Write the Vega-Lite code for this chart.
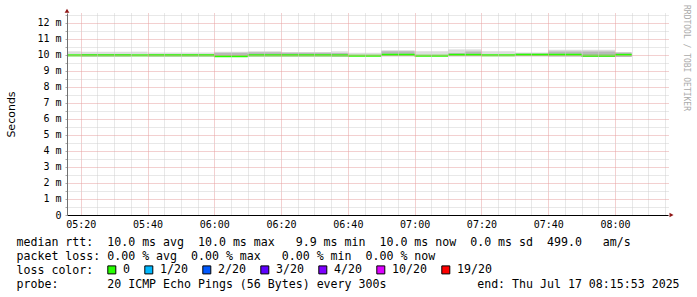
{
  "$schema": "https://vega.github.io/schema/vega-lite/v6.json",
  "width": 601,
  "height": 202,
  "autosize": {"type": "none"},
  "padding": {"left": 67, "top": 13, "right": 29, "bottom": 82},
  "background": "white",
  "config": {"view": {"stroke": null}},
  "title": {
    "text": "RRDTOOL / TOBI OETIKER",
    "orient": "right",
    "anchor": "start",
    "frame": "group",
    "font": "DejaVu Sans Mono",
    "fontSize": 8,
    "fontWeight": "normal",
    "color": "#aaaaaa",
    "offset": 3,
    "dx": -8
  },
  "resolve": {"axis": {"x": "independent", "y": "independent"}},
  "data": {
    "values": [
      {"start": "2025-07-17T05:15:53", "end": "2025-07-17T05:20:00", "lo": 9.88, "dk": 9.88, "hi": 10.21, "med": 9.96, "loss": "0"},
      {"start": "2025-07-17T05:20:00", "end": "2025-07-17T05:35:00", "lo": 9.88, "dk": 10.05, "hi": 10.19, "med": 9.96, "loss": "0"},
      {"start": "2025-07-17T05:35:00", "end": "2025-07-17T05:40:00", "lo": 9.88, "dk": 9.88, "hi": 10.19, "med": 9.96, "loss": "0"},
      {"start": "2025-07-17T05:40:00", "end": "2025-07-17T06:00:00", "lo": 9.88, "dk": 10.02, "hi": 10.14, "med": 9.96, "loss": "0"},
      {"start": "2025-07-17T06:00:00", "end": "2025-07-17T06:10:00", "lo": 9.86, "dk": 10.12, "hi": 10.19, "med": 9.90, "loss": "0"},
      {"start": "2025-07-17T06:10:00", "end": "2025-07-17T06:20:00", "lo": 9.88, "dk": 10.15, "hi": 10.21, "med": 9.96, "loss": "0"},
      {"start": "2025-07-17T06:20:00", "end": "2025-07-17T06:35:00", "lo": 9.88, "dk": 10.12, "hi": 10.17, "med": 9.96, "loss": "0"},
      {"start": "2025-07-17T06:35:00", "end": "2025-07-17T06:40:00", "lo": 9.88, "dk": 10.10, "hi": 10.21, "med": 9.96, "loss": "0"},
      {"start": "2025-07-17T06:40:00", "end": "2025-07-17T06:50:00", "lo": 9.88, "dk": 9.88, "hi": 10.125, "med": 9.93, "loss": "0"},
      {"start": "2025-07-17T06:50:00", "end": "2025-07-17T07:00:00", "lo": 9.90, "dk": 10.22, "hi": 10.28, "med": 9.99, "loss": "0"},
      {"start": "2025-07-17T07:00:00", "end": "2025-07-17T07:10:00", "lo": 9.88, "dk": 9.88, "hi": 10.21, "med": 9.93, "loss": "0"},
      {"start": "2025-07-17T07:10:00", "end": "2025-07-17T07:15:00", "lo": 9.90, "dk": 10.10, "hi": 10.33, "med": 9.99, "loss": "0"},
      {"start": "2025-07-17T07:15:00", "end": "2025-07-17T07:20:00", "lo": 9.90, "dk": 10.20, "hi": 10.33, "med": 9.99, "loss": "0"},
      {"start": "2025-07-17T07:20:00", "end": "2025-07-17T07:30:00", "lo": 9.88, "dk": 9.88, "hi": 10.21, "med": 9.96, "loss": "0"},
      {"start": "2025-07-17T07:30:00", "end": "2025-07-17T07:40:00", "lo": 9.90, "dk": 10.08, "hi": 10.14, "med": 10.0, "loss": "0"},
      {"start": "2025-07-17T07:40:00", "end": "2025-07-17T07:50:00", "lo": 9.88, "dk": 10.20, "hi": 10.31, "med": 9.99, "loss": "0"},
      {"start": "2025-07-17T07:50:00", "end": "2025-07-17T08:00:00", "lo": 9.86, "dk": 10.20, "hi": 10.31, "med": 9.93, "loss": "0"},
      {"start": "2025-07-17T08:00:00", "end": "2025-07-17T08:05:00", "lo": 9.86, "dk": 10.14, "hi": 10.14, "med": 9.99, "loss": "0"}
    ]
  },
  "layer": [
    {
      "mark": {"type": "rect", "color": "#dddddd"},
      "encoding": {
        "x": {
          "field": "start",
          "type": "temporal",
          "scale": {
            "domain": [
              {"year": 2025, "month": 7, "date": 17, "hours": 5, "minutes": 15, "seconds": 53},
              {"year": 2025, "month": 7, "date": 17, "hours": 8, "minutes": 15, "seconds": 53}
            ],
            "nice": false
          },
          "axis": {
            "orient": "bottom",
            "values": [
              {"year": 2025, "month": 7, "date": 17, "hours": 5, "minutes": 25},
              {"year": 2025, "month": 7, "date": 17, "hours": 5, "minutes": 30},
              {"year": 2025, "month": 7, "date": 17, "hours": 5, "minutes": 35},
              {"year": 2025, "month": 7, "date": 17, "hours": 5, "minutes": 45},
              {"year": 2025, "month": 7, "date": 17, "hours": 5, "minutes": 50},
              {"year": 2025, "month": 7, "date": 17, "hours": 5, "minutes": 55},
              {"year": 2025, "month": 7, "date": 17, "hours": 6, "minutes": 5},
              {"year": 2025, "month": 7, "date": 17, "hours": 6, "minutes": 10},
              {"year": 2025, "month": 7, "date": 17, "hours": 6, "minutes": 15},
              {"year": 2025, "month": 7, "date": 17, "hours": 6, "minutes": 25},
              {"year": 2025, "month": 7, "date": 17, "hours": 6, "minutes": 30},
              {"year": 2025, "month": 7, "date": 17, "hours": 6, "minutes": 35},
              {"year": 2025, "month": 7, "date": 17, "hours": 6, "minutes": 45},
              {"year": 2025, "month": 7, "date": 17, "hours": 6, "minutes": 50},
              {"year": 2025, "month": 7, "date": 17, "hours": 6, "minutes": 55},
              {"year": 2025, "month": 7, "date": 17, "hours": 7, "minutes": 5},
              {"year": 2025, "month": 7, "date": 17, "hours": 7, "minutes": 10},
              {"year": 2025, "month": 7, "date": 17, "hours": 7, "minutes": 15},
              {"year": 2025, "month": 7, "date": 17, "hours": 7, "minutes": 25},
              {"year": 2025, "month": 7, "date": 17, "hours": 7, "minutes": 30},
              {"year": 2025, "month": 7, "date": 17, "hours": 7, "minutes": 35},
              {"year": 2025, "month": 7, "date": 17, "hours": 7, "minutes": 45},
              {"year": 2025, "month": 7, "date": 17, "hours": 7, "minutes": 50},
              {"year": 2025, "month": 7, "date": 17, "hours": 7, "minutes": 55},
              {"year": 2025, "month": 7, "date": 17, "hours": 8, "minutes": 5},
              {"year": 2025, "month": 7, "date": 17, "hours": 8, "minutes": 10},
              {"year": 2025, "month": 7, "date": 17, "hours": 8, "minutes": 15}
            ],
            "labels": false,
            "ticks": false,
            "domain": false,
            "grid": true,
            "gridColor": "#d0d0d0",
            "gridDash": [1, 1],
            "gridWidth": 1,
            "zindex": 1,
            "title": null
          }
        },
        "x2": {"field": "end"},
        "y": {
          "field": "lo",
          "type": "quantitative",
          "scale": {"domain": [0, 12.6], "nice": false, "zero": true},
          "axis": {
            "orient": "left",
            "values": [0.5, 1.5, 2.5, 3.5, 4.5, 5.5, 6.5, 7.5, 8.5, 9.5, 10.5, 11.5, 12.5],
            "labels": false,
            "ticks": true,
            "tickSize": 2,
            "tickColor": "#aaaaaa",
            "domain": false,
            "grid": true,
            "gridColor": "#d0d0d0",
            "gridDash": [1, 1],
            "gridWidth": 1,
            "zindex": 1,
            "title": null
          }
        },
        "y2": {"field": "hi"}
      }
    },
    {
      "mark": {"type": "rect", "color": "#b8b8b8"},
      "encoding": {
        "x": {
          "field": "start",
          "type": "temporal",
          "axis": {
            "orient": "bottom",
            "values": [
              {"year": 2025, "month": 7, "date": 17, "hours": 5, "minutes": 20},
              {"year": 2025, "month": 7, "date": 17, "hours": 5, "minutes": 40},
              {"year": 2025, "month": 7, "date": 17, "hours": 6, "minutes": 0},
              {"year": 2025, "month": 7, "date": 17, "hours": 6, "minutes": 20},
              {"year": 2025, "month": 7, "date": 17, "hours": 6, "minutes": 40},
              {"year": 2025, "month": 7, "date": 17, "hours": 7, "minutes": 0},
              {"year": 2025, "month": 7, "date": 17, "hours": 7, "minutes": 20},
              {"year": 2025, "month": 7, "date": 17, "hours": 7, "minutes": 40},
              {"year": 2025, "month": 7, "date": 17, "hours": 8, "minutes": 0}
            ],
            "format": "%H:%M",
            "labelFont": "DejaVu Sans Mono",
            "labelFontSize": 10,
            "labelColor": "#000000",
            "labelPadding": 4,
            "labelOverlap": false,
            "labelFlush": false,
            "ticks": false,
            "tickSize": 0,
            "domainColor": "#000000",
            "domainWidth": 1,
            "grid": true,
            "gridColor": "#e6a0a0",
            "gridDash": [1, 1],
            "gridWidth": 1,
            "zindex": 1,
            "title": [
              "median rtt:\u00a0\u00a010.0 ms avg\u00a0\u00a010.0 ms max\u00a0\u00a0\u00a09.9 ms min\u00a0\u00a010.0 ms now\u00a0\u00a00.0 ms sd\u00a0\u00a0499.0\u00a0\u00a0\u00a0am/s",
              "packet loss: 0.00 % avg\u00a0\u00a00.00 % max\u00a0\u00a0\u00a00.00 % min\u00a0\u00a00.00 % now",
              "loss color:",
              "probe:\u00a0\u00a0\u00a0\u00a0\u00a0\u00a0\u00a020 ICMP Echo Pings (56 Bytes) every 300s\u00a0\u00a0\u00a0\u00a0\u00a0\u00a0\u00a0\u00a0\u00a0\u00a0\u00a0\u00a0\u00a0end: Thu Jul 17 08:15:53 2025"
            ],
            "titleFont": "DejaVu Sans Mono",
            "titleFontSize": 11.6,
            "titleFontWeight": "normal",
            "titleColor": "#000000",
            "titleLineHeight": 14,
            "titleAlign": "left",
            "titleAnchor": "start",
            "titleBaseline": "alphabetic",
            "titleX": -51,
            "titleY": 30
          }
        },
        "x2": {"field": "end"},
        "y": {
          "field": "lo",
          "type": "quantitative",
          "axis": {
            "orient": "left",
            "values": [0, 1, 2, 3, 4, 5, 6, 7, 8, 9, 10, 11, 12],
            "labelExpr": "datum.value === 0 ? '0' : datum.value + ' m'",
            "labelFont": "DejaVu Sans Mono",
            "labelFontSize": 10,
            "labelColor": "#000000",
            "labelPadding": 4,
            "labelOverlap": false,
            "tickSize": 2,
            "tickColor": "#aaaaaa",
            "domainColor": "#707070",
            "grid": true,
            "gridColor": "#e6a0a0",
            "gridDash": [1, 1],
            "gridWidth": 1,
            "zindex": 1,
            "title": "Seconds",
            "titleFont": "DejaVu Sans",
            "titleFontSize": 11,
            "titleFontWeight": "normal",
            "titleColor": "#000000",
            "titleAngle": -90,
            "titleAlign": "center",
            "titleBaseline": "middle",
            "titleX": -56,
            "titleY": 101
          }
        },
        "y2": {"field": "dk"}
      }
    },
    {
      "mark": {"type": "rule", "color": "#26ff00", "strokeWidth": 2},
      "encoding": {
        "x": {"field": "start", "type": "temporal", "axis": null},
        "x2": {"field": "end"},
        "y": {"field": "med", "type": "quantitative", "axis": null}
      }
    },
    {
      "mark": {"type": "square", "filled": true, "opacity": 0},
      "encoding": {
        "x": {"field": "start", "type": "temporal", "axis": null},
        "y": {"field": "med", "type": "quantitative", "axis": null},
        "color": {
          "field": "loss",
          "type": "nominal",
          "scale": {
            "domain": ["0", "1/20", "2/20", "3/20", "4/20", "10/20", "19/20"],
            "range": ["#26ff00", "#00b8ff", "#0059ff", "#5e00ff", "#7e00ff", "#dd00ff", "#ff0000"]
          },
          "legend": {
            "orient": "none",
            "legendX": 39,
            "legendY": 251,
            "direction": "horizontal",
            "title": null,
            "symbolType": "square",
            "symbolSize": 64,
            "symbolStrokeColor": "#000000",
            "symbolStrokeWidth": 1,
            "symbolOpacity": 1,
            "labelFont": "DejaVu Sans Mono",
            "labelFontSize": 11.6,
            "labelColor": "#000000",
            "labelOffset": 5.5,
            "labelLimit": 0,
            "columnPadding": 11,
            "padding": 0
          }
        }
      }
    },
    {
      "data": {"values": [{}]},
      "mark": {"type": "point", "shape": "triangle-right", "filled": true, "color": "#901818", "size": 22, "opacity": 1},
      "encoding": {
        "x": {"datum": {"year": 2025, "month": 7, "date": 17, "hours": 8, "minutes": 16, "seconds": 56}, "type": "temporal", "axis": null},
        "y": {"datum": 0, "type": "quantitative", "axis": null}
      }
    },
    {
      "data": {"values": [{}]},
      "mark": {"type": "point", "shape": "triangle-up", "filled": true, "color": "#901818", "size": 22, "opacity": 1},
      "encoding": {
        "x": {"datum": {"year": 2025, "month": 7, "date": 17, "hours": 5, "minutes": 15, "seconds": 53}, "type": "temporal", "axis": null},
        "y": {"datum": 12.74, "type": "quantitative", "axis": null}
      }
    }
  ]
}
